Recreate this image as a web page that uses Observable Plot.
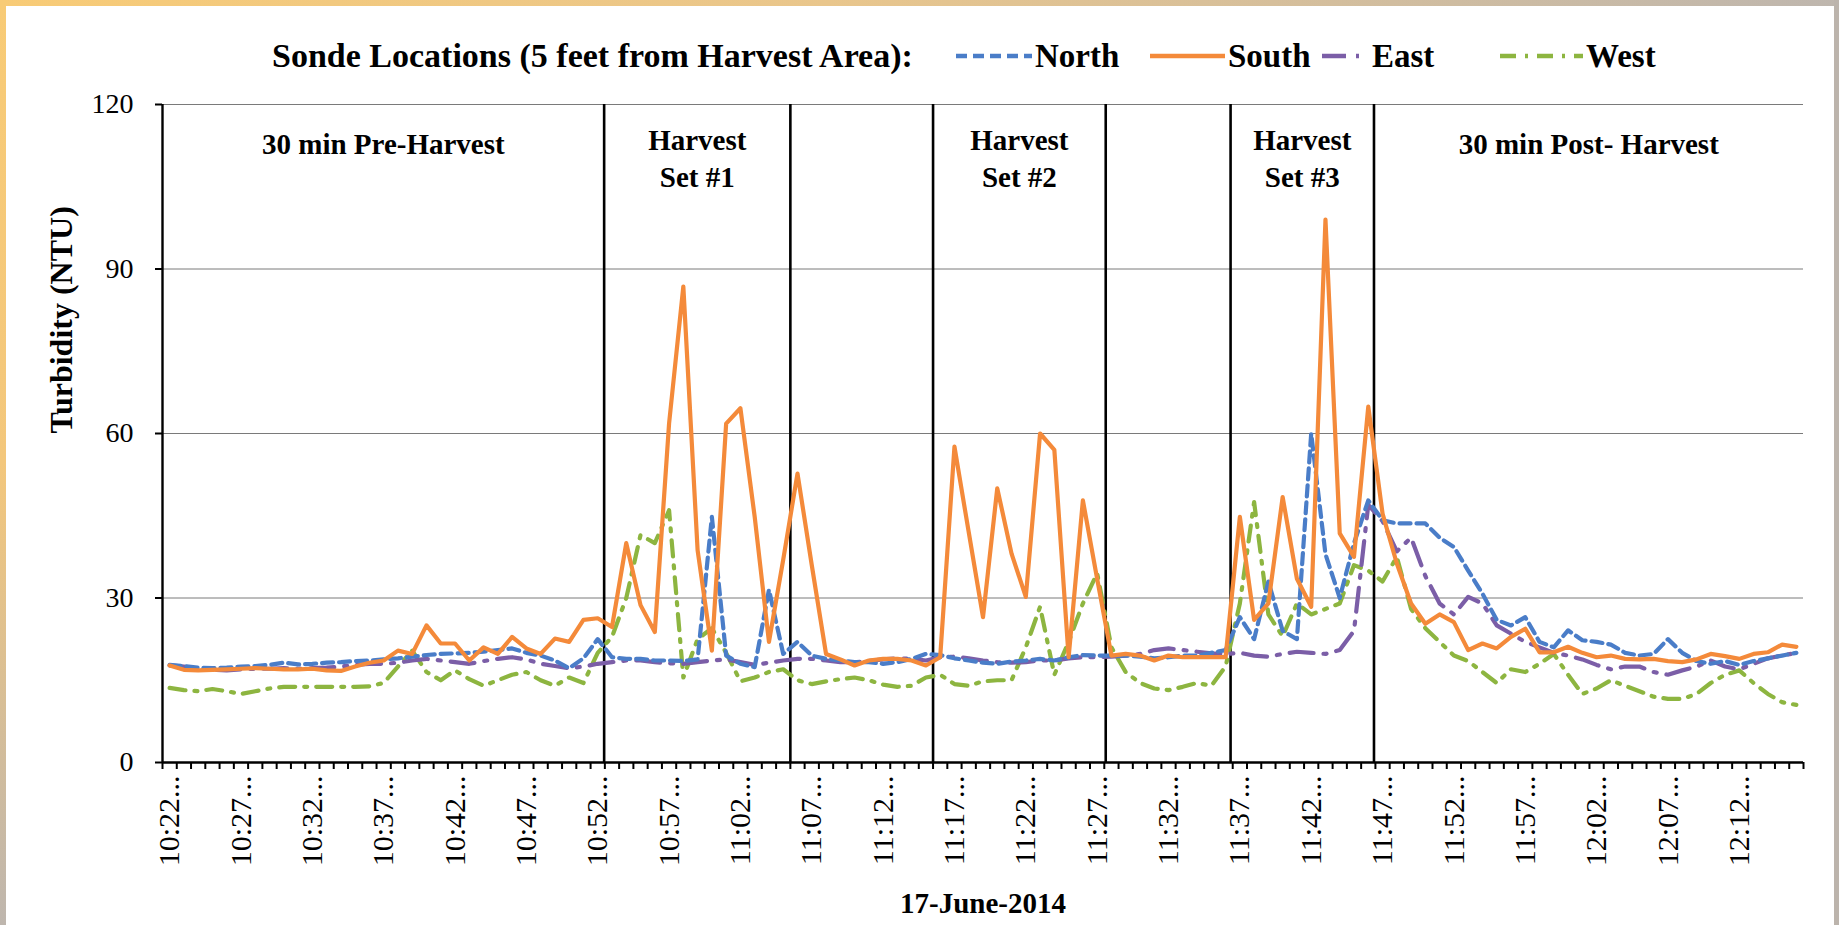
<!DOCTYPE html>
<html>
<head>
<meta charset="utf-8">
<script src="https://cdn.jsdelivr.net/npm/d3@7"></script>
<script src="https://cdn.jsdelivr.net/npm/@observablehq/plot@0.6"></script>
<style>
  html, body { margin: 0; padding: 0; background: #fff; overflow: hidden; }
  #page { position: relative; width: 1839px; height: 925px; overflow: hidden; background: #fff; }
  #legend { position: absolute; left: 0; top: 0; }
  #chart { position: absolute; left: 0; top: 80px; }
  .edge { position: absolute; }
  #edgeTop { left: 0; top: 0; width: 1839px; height: 6px; background: linear-gradient(to right, #F8CB76, #E9C68C 45%, #BEB6AE); }
  #edgeLeft { left: 0; top: 0; width: 6px; height: 925px; background: linear-gradient(to bottom, #F8CB76, #F3C77C 50%, #BEB6AE); }
  #edgeRight { right: 0; top: 0; width: 5px; height: 925px; background: #BCB4AC; }
</style>
</head>
<body>
<div id="page">
  <div id="legend"></div>
  <div id="chart"></div>
  <div class="edge" id="edgeTop"></div>
  <div class="edge" id="edgeLeft"></div>
  <div class="edge" id="edgeRight"></div>
</div>
<script>
// ---------------- DATA ----------------
const times = [
  "10:22","10:23","10:24","10:25","10:26","10:27","10:28","10:29","10:30","10:31",
  "10:32","10:33","10:34","10:35","10:36","10:37","10:38","10:39","10:40","10:41",
  "10:42","10:43","10:44","10:45","10:46","10:47","10:48","10:49","10:50","10:51",
  "10:52","10:53","10:54","10:55","10:56","10:57","10:58","10:59","11:00","11:01",
  "11:02","11:03","11:04","11:05","11:06","11:07","11:08","11:09","11:10","11:11",
  "11:12","11:13","11:14","11:15","11:16","11:17","11:18","11:19","11:20","11:21",
  "11:22","11:23","11:24","11:25","11:26","11:27","11:28","11:29","11:30","11:31",
  "11:32","11:33","11:34","11:35","11:36","11:37","11:38","11:39","11:40","11:41",
  "11:42","11:43","11:44","11:45","11:46","11:47","11:48","11:49","11:50","11:51",
  "11:52","11:53","11:54","11:55","11:56","11:57","11:58","11:59","12:00","12:01",
  "12:02","12:03","12:04","12:05","12:06","12:07","12:08","12:09","12:10","12:11",
  "12:12","12:13","12:14","12:15","12:16"
];

const labelTimes = ["10:22","10:27","10:32","10:37","10:42","10:47","10:52","10:57","11:02","11:07",
  "11:12","11:17","11:22","11:27","11:32","11:37","11:42","11:47","11:52","11:57","12:02","12:07","12:12"];

const yTicks = [0, 30, 60, 90, 120];

const north = [
  17.8,17.6,17.3,17.2,17.3,17.5,17.6,17.8,18.2,17.9,
  18.0,18.2,18.3,18.5,18.6,18.8,19.0,19.3,19.6,19.8,
  19.9,20.0,20.2,20.5,20.8,20.0,19.5,18.6,17.2,19.0,
  22.5,19.2,18.9,18.9,18.6,18.6,18.5,18.8,44.8,19.5,
  18.0,17.4,31.5,19.8,22.0,19.5,18.9,18.6,18.3,18.3,
  18.0,18.3,18.9,19.8,19.6,19.0,18.6,18.2,18.0,18.4,
  18.6,18.9,18.6,19.2,19.6,19.5,19.5,19.5,19.3,19.0,
  19.2,19.5,19.5,20.0,20.5,26.5,22.5,33.0,24.0,22.5,
  60.0,38.0,30.0,40.0,47.8,44.2,43.6,43.6,43.6,41.0,
  39.3,35.0,30.8,26.0,25.0,26.5,22.0,21.0,24.1,22.3,
  22.0,21.5,20.0,19.5,19.8,22.5,20.0,18.5,18.0,18.5,
  17.8,18.5,19.0,19.5,20.0
];

const south = [
  17.7,16.9,16.8,16.9,17.0,17.1,17.2,17.1,17.0,17.0,
  17.1,16.8,16.7,17.5,18.2,18.6,20.4,19.8,25.0,21.7,
  21.7,18.6,21.0,19.8,22.9,20.8,19.8,22.6,22.0,26.0,
  26.3,24.7,40.0,28.7,23.8,61.8,86.8,38.7,20.4,61.8,
  64.6,44.8,22.0,37.0,52.7,36.0,19.8,18.8,17.7,18.6,
  18.9,18.9,18.6,17.7,19.2,57.6,42.0,26.5,50.0,38.1,
  30.2,60.0,57.0,19.2,47.8,33.5,19.5,19.8,19.5,18.6,
  19.5,19.2,19.2,19.2,19.2,44.8,26.0,29.0,48.4,33.5,
  28.4,99.0,41.8,37.5,64.9,45.4,36.3,29.0,25.3,27.0,
  25.6,20.5,21.7,20.8,22.9,24.4,20.1,20.1,21.1,20.0,
  19.2,19.5,18.9,18.8,18.9,18.5,18.3,18.8,19.8,19.4,
  18.9,19.8,20.1,21.5,21.1
];

const east = [
  17.7,17.5,17.1,16.9,16.8,17.0,17.1,17.1,17.2,17.1,
  17.2,17.3,17.5,17.8,18.0,18.0,18.2,18.6,18.9,18.6,
  18.3,18.0,18.5,18.9,19.2,18.8,18.0,17.6,17.2,17.5,
  18.0,18.3,18.6,18.6,18.3,18.1,18.0,18.3,18.6,18.8,
  18.3,17.8,18.2,18.6,18.9,18.9,18.6,18.3,18.3,18.5,
  18.8,19.0,18.9,18.6,19.2,19.3,19.0,18.6,18.3,18.2,
  18.3,18.6,18.6,19.0,19.2,19.2,19.3,19.5,19.8,20.5,
  20.8,20.5,20.2,19.9,19.8,20.0,19.5,19.3,19.8,20.2,
  20.0,19.8,20.5,24.0,47.0,44.0,38.5,41.0,34.0,29.0,
  27.0,30.2,29.0,25.0,23.5,22.0,21.0,20.0,19.5,18.8,
  17.8,17.0,17.5,17.5,16.5,16.0,16.8,17.5,18.6,17.5,
  17.0,18.0,19.0,19.5,20.0
];

const west = [
  13.6,13.2,13.0,13.4,13.0,12.5,13.0,13.5,13.8,13.8,
  13.8,13.8,13.8,13.8,13.9,14.5,17.5,20.4,16.5,15.0,
  16.8,15.2,14.0,15.0,16.0,16.5,15.0,14.0,15.5,14.5,
  20.0,22.9,30.0,41.5,40.0,46.0,15.5,22.5,24.5,20.0,
  14.8,15.5,16.5,17.0,15.0,14.3,14.8,15.2,15.5,15.0,
  14.2,13.8,14.0,15.5,16.0,14.3,14.0,14.8,15.0,15.0,
  21.0,28.4,16.0,22.0,29.0,34.5,21.0,16.5,14.5,13.5,
  13.2,13.8,14.5,14.0,17.5,29.0,47.5,27.0,23.0,29.0,
  27.0,28.0,29.0,36.0,35.0,33.0,37.5,28.0,24.5,22.0,
  19.5,18.5,16.5,14.5,17.0,16.5,18.0,19.8,16.0,12.5,
  13.5,15.0,14.0,13.0,12.0,11.6,11.6,12.5,14.5,16.0,
  16.8,14.5,12.5,11.0,10.5
];

// phase boundaries (vertical lines), in minutes after 10:22
const phaseEdges = [30.45, 43.5, 53.5, 65.6, 74.35, 84.4];
// labelled phases: text, and the start / end of the span they describe (minutes after 10:22)
const phaseLabels = ["30 min Pre-Harvest", "Harvest\nSet #1", "Harvest\nSet #2", "Harvest\nSet #3", "30 min Post- Harvest"];
const phaseStart  = [-0.5, 30.45, 53.5, 74.35, 84.4];
const phaseEnd    = [30.45, 43.5, 65.6, 84.4, 114.5];

const seriesNames = ["North", "South", "East", "West"];
const legendTitle = "Sonde Locations (5 feet from Harvest Area):";
const yTitle = "Turbidity (NTU)";
const xTitle = "17-June-2014";

// ---------------- STYLE ----------------
const font = "'Liberation Serif', 'Times New Roman', serif";
const styles = {
  North: {stroke: "#4A7DC8", dash: "11,6"},
  South: {stroke: "#F48A3A", dash: null},
  East:  {stroke: "#7B5EA7", dash: "24,10,3,10"},
  West:  {stroke: "#8DB540", dash: "16,9,3,9"}
};
const seriesValues = {North: north, South: south, East: east, West: west};
const drawOrder = ["West", "East", "North", "South"];

function rows(name) { return seriesValues[name].map((v, i) => ({i, v, name})); }

const n = times.length;
const labelIdx = labelTimes.map(t => times.indexOf(t));
const phases = phaseLabels.map((label, k) => ({
  label,
  mid: (phaseStart[k] + phaseEnd[k]) / 2,
  two: label.includes("\n")
}));

const lineMarks = drawOrder.map(name => Plot.line(rows(name), {
  x: "i", y: "v",
  stroke: styles[name].stroke,
  strokeWidth: 4.2,
  strokeDasharray: styles[name].dash,
  strokeLinejoin: "round",
  curve: "linear"
}));

const chart = Plot.plot({
  width: 1839, height: 845,
  marginLeft: 162, marginRight: 36, marginTop: 24, marginBottom: 163,
  style: {fontFamily: font, color: "#000", background: "transparent", overflow: "visible"},
  x: {domain: [-0.5, n - 0.5]},
  y: {domain: [0, 120]},
  marks: [
    Plot.gridY(yTicks.filter(d => d > 0), {stroke: "#7a7a7a", strokeOpacity: 1, strokeWidth: 1}),
    Plot.ruleX(phaseEdges, {stroke: "#000", strokeWidth: 2.6}),
    ...lineMarks,
    Plot.ruleY([0], {stroke: "#000", strokeWidth: 2.4}),
    Plot.ruleX([-0.5], {stroke: "#000", strokeWidth: 2.4}),
    Plot.axisY(yTicks, {tickSize: 7, tickPadding: 22, fontSize: 28, label: null, strokeWidth: 2}),
    Plot.axisX(d3.range(-0.5, n, 1), {tickSize: 7, tickFormat: () => "", label: null, strokeWidth: 2}),
    Plot.axisX(labelIdx, {tickSize: 0, tickPadding: 13, tickRotate: -90, fontSize: 30, tickFormat: i => times[i] + "...", label: null}),
    Plot.text(phases.filter(d => !d.two), {x: "mid", text: "label", frameAnchor: "top", lineAnchor: "middle", dy: 40, fontSize: 29, fontWeight: "bold", fill: "#000"}),
    Plot.text(phases.filter(d => d.two), {x: "mid", text: "label", frameAnchor: "top", lineAnchor: "middle", dy: 52, fontSize: 29, fontWeight: "bold", lineHeight: 1.27, fill: "#000"}),
    Plot.text([yTitle], {text: d => d, frameAnchor: "left", dx: -101, rotate: -90, fontSize: 32, fontWeight: "bold", fill: "#000"}),
    Plot.text([xTitle], {text: d => d, frameAnchor: "bottom", lineAnchor: "middle", dy: 141, fontSize: 29, fontWeight: "bold", fill: "#000"})
  ]
});
document.getElementById("chart").appendChild(chart);

// ---------------- LEGEND (above the chart) ----------------
const legendLayout = {
  North: {x1: 956, x2: 1032, tx: 1035},
  South: {x1: 1150, x2: 1225, tx: 1228},
  East:  {x1: 1322, x2: 1366, tx: 1372},
  West:  {x1: 1500, x2: 1583, tx: 1586}
};
const leg = d3.select("#legend").append("svg")
  .attr("width", 1839).attr("height", 80)
  .style("font-family", font);
leg.append("text").attr("x", 272).attr("y", 67)
  .attr("font-size", 34).attr("font-weight", "bold").attr("fill", "#000")
  .text(legendTitle);
seriesNames.forEach(name => {
  const L = legendLayout[name], s = styles[name];
  leg.append("line").attr("x1", L.x1).attr("x2", L.x2).attr("y1", 56).attr("y2", 56)
    .attr("stroke", s.stroke).attr("stroke-width", 4.5)
    .attr("stroke-dasharray", s.dash);
  leg.append("text").attr("x", L.tx).attr("y", 67)
    .attr("font-size", 33).attr("font-weight", "bold").attr("fill", "#000")
    .text(name);
});
</script>
</body>
</html>
